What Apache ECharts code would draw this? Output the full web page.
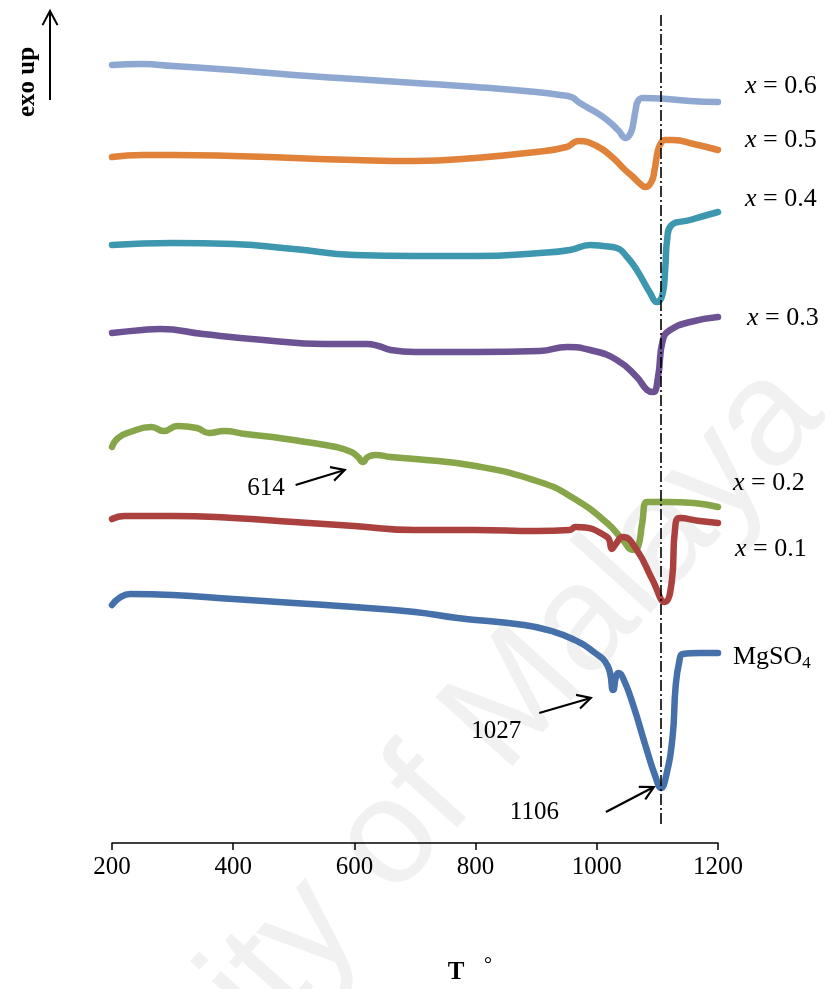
<!DOCTYPE html>
<html>
<head>
<meta charset="utf-8">
<script src="https://cdn.jsdelivr.net/npm/echarts@6/dist/echarts.min.js"></script>
<style>
  html, body { margin: 0; padding: 0; background: #ffffff; }
  #chart { width: 825px; height: 989px; }
</style>
</head>
<body>
<div id="chart"></div>
<script>
// DTA traces, [temperature, heat-flow signal (a.u., offset per sample)]
const tempTicks = [200, 400, 600, 800, 1000, 1200];

const x06 = [[200,778],[250,779],[300,777],[400,773],[500,768],[600,764],[700,760],[800,756],[900,751],[940,748],[958,746],[972,740],[995,732],[1017,723],[1035,713],[1048,705],[1056,710],[1060,719],[1064,733],[1068,742],[1076,745],[1116,744],[1154,742],[1200,741]];

const x05 = [[200,686],[250,688],[300,688],[400,687],[500,685],[600,683],[700,682],[800,685],[900,691],[950,696],[970,702],[1000,697],[1027,685],[1045,674],[1060,666],[1072,659],[1080,656],[1090,661],[1095,672],[1101,693],[1106,700],[1112,703],[1126,703],[1160,699],[1200,693]];

const x04 = [[200,598],[300,600],[400,599],[500,594],[600,588],[700,587],[800,587],[906,590],[956,593],[989,598],[1010,597],[1033,595],[1050,586],[1066,573],[1088,550],[1099,541],[1109,550],[1113,575],[1116,603],[1122,617],[1154,623],[1200,631]];

const x03 = [[200,510],[250,513],[280,514],[350,509],[450,503],[550,499],[620,499],[640,497],[660,493],[700,491],[800,491],[906,492],[951,496],[989,493],[1033,483],[1066,466],[1083,453],[1093,451],[1101,466],[1109,503],[1121,513],[1154,521],[1200,526]];

const x02 = [[200,396],[210,405],[230,411],[265,416],[285,412],[308,417],[340,415],[360,410],[385,412],[420,409],[465,406],[520,401],[570,396],[595,391],[606,386],[614,381],[622,386],[635,388],[660,386],[700,384],[800,377],[906,361],[961,345],[1017,320],[1043,303],[1060,293],[1068,296],[1075,320],[1083,341],[1116,341],[1160,340],[1200,336]];

const x01 = [[200,324],[220,327],[300,327],[400,325],[500,321],[600,317],[700,313],[800,313],[900,312],[955,313],[965,316],[1017,306],[1025,294],[1030,298],[1043,306],[1066,293],[1092,263],[1112,241],[1124,263],[1129,313],[1137,325],[1170,322],[1200,320]];

const mgso4 = [[200,238],[212,245],[230,249],[300,248],[400,244],[500,240],[600,236],[700,231],[770,225],[880,218],[925,212],[960,204],[995,191],[1018,177],[1027,153],[1032,167],[1036,170],[1044,164],[1060,138],[1081,96],[1097,66],[1106,55],[1114,66],[1125,106],[1130,156],[1136,181],[1142,189],[1170,190],[1200,190]];

// Peak temperatures called out with arrows
const peakMarker = 1106;
const callouts = [
  { text: '614',  tail: [503, 358], tip: [584, 373], label: [454, 355] },
  { text: '1027', tail: [905, 130], tip: [990, 145], label: [834, 112] },
  { text: '1106', tail: [1015, 31], tip: [1094, 56], label: [897, 31] }
];

const seriesDefs = [
  { name: 'x = 0.6', data: x06,   color: '#8FA8D2' },
  { name: 'x = 0.5', data: x05,   color: '#E0823A' },
  { name: 'x = 0.4', data: x04,   color: '#3C97AF' },
  { name: 'x = 0.3', data: x03,   color: '#6C5293' },
  { name: 'x = 0.2', data: x02,   color: '#87A64A' },
  { name: 'x = 0.1', data: x01,   color: '#AA413F' },
  { name: 'MgSO4',   data: mgso4, color: '#4570A9' }
];

const SERIF = '"Liberation Serif", "Times New Roman", serif';

const chart = echarts.init(document.getElementById('chart'), null, { renderer: 'canvas' });

const series = seriesDefs.map(function (s) {
  return {
    name: s.name,
    type: 'line',
    data: s.data,
    showSymbol: false,
    smooth: 0.5,
    lineStyle: { color: s.color, width: 6.5, cap: 'round', join: 'round' },
    silent: true,
    z: 3
  };
});

// dash-dot reference line through the main endotherm
series[series.length - 1].markLine = {
  silent: true,
  symbol: 'none',
  label: { show: false },
  lineStyle: { color: '#000000', width: 1.6, type: [11, 3, 2, 3] },
  data: [[{ coord: [peakMarker, 828] }, { coord: [peakMarker, 18] }]],
  z: 5
};

chart.setOption({
  animation: false,
  backgroundColor: '#ffffff',
  grid: { left: 112, right: 107, top: 15, bottom: 146 },
  xAxis: {
    type: 'value',
    min: tempTicks[0],
    max: tempTicks[tempTicks.length - 1],
    interval: 200,
    axisLine: { show: true, onZero: false, lineStyle: { color: '#000000', width: 1.5 } },
    axisTick: { show: true, inside: false, length: 7, lineStyle: { color: '#000000', width: 1.5 } },
    splitLine: { show: false },
    axisLabel: {
      color: '#000000', fontFamily: SERIF, fontSize: 25, margin: 12,
      formatter: function (v) { return String(v); }
    }
  },
  yAxis: {
    type: 'value',
    min: 0,
    max: 828,
    show: false,
    splitLine: { show: false }
  },
  series: series
});

// text and arrow overlays
const graphics = [];

graphics.push({
  type: 'text', x: 345, y: 890, rotation: 48 * Math.PI / 180, z: -10, silent: true,
  style: { text: 'University of Malaya', fill: '#f1f1f1', font: '150px "Liberation Sans", Arial, sans-serif', align: 'center', verticalAlign: 'middle' }
});

function openArrow(p0, p1, head, width) {
  const dx = p1[0] - p0[0], dy = p1[1] - p0[1];
  const len = Math.sqrt(dx * dx + dy * dy);
  const ux = dx / len, uy = dy / len;
  const a = 28 * Math.PI / 180;
  const l = [p1[0] - head * (ux * Math.cos(a) - uy * Math.sin(a)), p1[1] - head * (uy * Math.cos(a) + ux * Math.sin(a))];
  const r = [p1[0] - head * (ux * Math.cos(a) + uy * Math.sin(a)), p1[1] - head * (uy * Math.cos(a) - ux * Math.sin(a))];
  return [
    { type: 'line', silent: true, z: 10, shape: { x1: p0[0], y1: p0[1], x2: p1[0], y2: p1[1] }, style: { stroke: '#000', lineWidth: width } },
    { type: 'polyline', silent: true, z: 10, shape: { points: [l, p1, r] }, style: { stroke: '#000', lineWidth: width, fill: null } }
  ];
}

callouts.forEach(function (c) {
  const tail = chart.convertToPixel({ gridIndex: 0 }, c.tail);
  const tip = chart.convertToPixel({ gridIndex: 0 }, c.tip);
  const lab = chart.convertToPixel({ gridIndex: 0 }, c.label);
  openArrow(tail, tip, 15, 2.2).forEach(function (g) { graphics.push(g); });
  graphics.push({
    type: 'text', x: lab[0], y: lab[1], silent: true, z: 10,
    style: { text: c.text, fill: '#000', font: '25px ' + SERIF, align: 'center', verticalAlign: 'middle' }
  });
});

// series names at the right-hand end
const nameSpots = [
  { txt: '{i|x} = 0.6', x: 745, y: 86 },
  { txt: '{i|x} = 0.5', x: 745, y: 140 },
  { txt: '{i|x} = 0.4', x: 745, y: 199 },
  { txt: '{i|x} = 0.3', x: 747, y: 318 },
  { txt: '{i|x} = 0.2', x: 733, y: 483 },
  { txt: '{i|x} = 0.1', x: 735, y: 549 },
  { txt: 'MgSO{s|4}',   x: 733, y: 657 }
];
nameSpots.forEach(function (n) {
  graphics.push({
    type: 'text', x: n.x, y: n.y, silent: true, z: 10,
    style: {
      text: n.txt, fill: '#000', font: '26px ' + SERIF, align: 'left', verticalAlign: 'middle',
      rich: {
        i: { fontStyle: 'italic', fontFamily: SERIF, fontSize: 26, fill: '#000' },
        s: { fontFamily: SERIF, fontSize: 17, fill: '#000', padding: [13, 0, 0, 0] }
      }
    }
  });
});

// axis captions
graphics.push({
  type: 'text', x: 28, y: 82, rotation: Math.PI / 2, silent: true, z: 10,
  style: { text: 'exo up', fill: '#000', font: 'bold 25px ' + SERIF, align: 'center', verticalAlign: 'middle' }
});
openArrow([50, 100], [50, 11], 16, 2).forEach(function (g) { graphics.push(g); });
graphics.push({
  type: 'text', x: 456, y: 973, silent: true, z: 10,
  style: { text: 'T', fill: '#000', font: 'bold 25px ' + SERIF, align: 'center', verticalAlign: 'middle' }
});
graphics.push({
  type: 'text', x: 488, y: 966, silent: true, z: 10,
  style: { text: '°', fill: '#000', font: '20px ' + SERIF, align: 'center', verticalAlign: 'middle' }
});

chart.setOption({ graphic: graphics });
</script>
</body>
</html>
